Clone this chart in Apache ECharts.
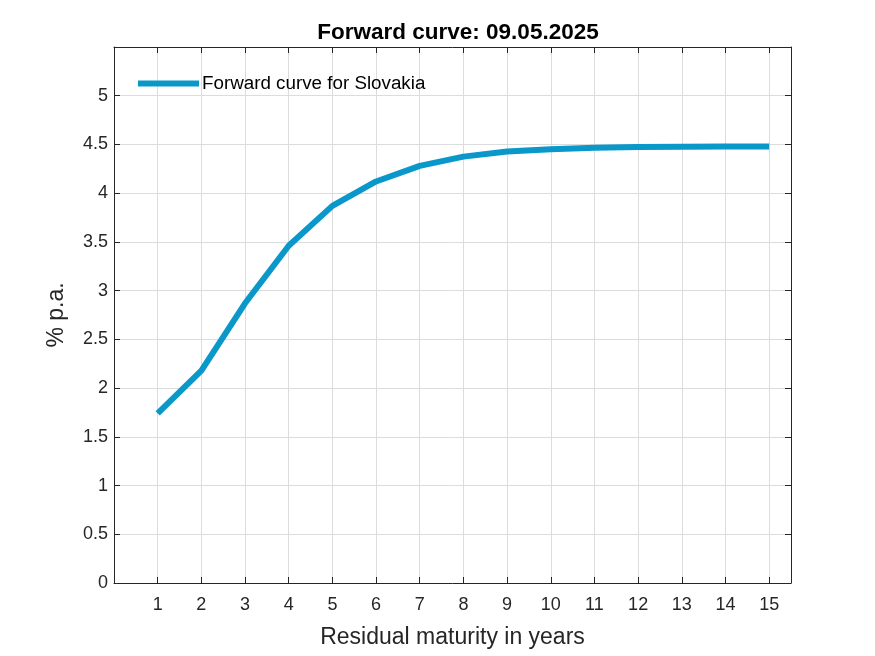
<!DOCTYPE html>
<html>
<head>
<meta charset="utf-8">
<script src="https://cdn.jsdelivr.net/npm/echarts@6/dist/echarts.min.js"></script>
<style>html,body{margin:0;padding:0;background:#fff;}#c{width:875px;height:656px;}</style>
</head>
<body>
<div id="c"></div>
<script>
var maturities = [1,2,3,4,5,6,7,8,9,10,11,12,13,14,15];
var forwardRates = [1.74,2.18,2.87,3.46,3.87,4.12,4.28,4.375,4.427,4.45,4.465,4.473,4.477,4.48,4.48];
var titleText = 'Forward curve: 09.05.2025';
var seriesName = 'Forward curve for Slovakia';
var xName = 'Residual maturity in years';
var yName = '% p.a.';

var data = maturities.map(function(m,i){return [m, forwardRates[i]];});
var FONT = 'Liberation Sans, Arial, sans-serif';
var axisCol = '#262626';
function aLine(){return {show:true,onZero:false,lineStyle:{color:axisCol,width:1}};}
function aTick(){return {show:true,inside:true,length:6,lineStyle:{color:axisCol,width:1}};}
var chart = echarts.init(document.getElementById('c'), null, {renderer:'canvas'});
chart.setOption({
  animation:false,
  backgroundColor:'#fff',
  title:{text:titleText,left:453,textAlign:'center',top:16,
    textStyle:{fontFamily:FONT,fontSize:22.5,fontWeight:'bold',color:'#000'}},
  legend:{show:true,left:133,top:69,itemWidth:61,itemHeight:6,itemGap:0,
    icon:'rect',
    textStyle:{fontFamily:FONT,fontSize:18.8,color:'#000',padding:[0,0,0,-2]},
    data:[{name:seriesName,icon:'rect'}]},
  grid:{left:114,right:84,top:47,bottom:73,containLabel:false},
  xAxis:[{
    type:'value',min:0,max:15.5,interval:1,position:'bottom',
    name:xName,nameLocation:'middle',nameGap:43,
    nameTextStyle:{fontFamily:FONT,fontSize:23,color:axisCol},
    axisLine:aLine(),axisTick:aTick(),
    axisLabel:{fontFamily:FONT,fontSize:18,color:axisCol,margin:13,showMinLabel:false,
      formatter:function(v){return v===0?'':String(v);}},
    splitLine:{show:true,lineStyle:{color:'#dcdcdc',width:1}}
  },{
    type:'value',min:0,max:15.5,interval:1,position:'top',
    axisLine:aLine(),axisTick:aTick(),
    axisLabel:{show:false},splitLine:{show:false}
  }],
  yAxis:[{
    type:'value',min:0,max:5.5,interval:0.5,position:'left',
    name:yName,nameLocation:'middle',nameGap:46,nameRotate:90,
    nameTextStyle:{fontFamily:FONT,fontSize:23,color:axisCol},
    axisLine:aLine(),axisTick:aTick(),
    axisLabel:{fontFamily:FONT,fontSize:18,color:axisCol,margin:6,showMaxLabel:false,
      formatter:function(v){return v===5.5?'':String(v);}},
    splitLine:{show:true,lineStyle:{color:'#dcdcdc',width:1}}
  },{
    type:'value',min:0,max:5.5,interval:0.5,position:'right',
    axisLine:aLine(),axisTick:aTick(),
    axisLabel:{show:false},splitLine:{show:false}
  }],
  series:[{
    name:seriesName,type:'line',data:data,xAxisIndex:0,yAxisIndex:0,
    showSymbol:false,symbol:'none',
    lineStyle:{color:'#0a97c9',width:6,join:'round'},
    itemStyle:{color:'#0a97c9'}
  }]
});
</script>
</body>
</html>
